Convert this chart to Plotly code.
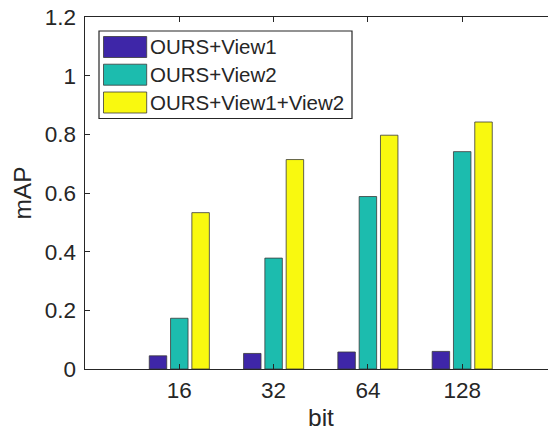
import plotly.graph_objects as go

categories = ["16", "32", "64", "128"]
series_names = ["OURS+View1", "OURS+View2", "OURS+View1+View2"]
view1 = [0.045, 0.053, 0.058, 0.060]
view2 = [0.173, 0.378, 0.588, 0.741]
view12 = [0.533, 0.714, 0.797, 0.842]
colors = ["#3e26a8", "#1cbcae", "#f9f90f"]
yticks = [0, 0.2, 0.4, 0.6, 0.8, 1.0, 1.2]
ytick_labels = ["0", "0.2", "0.4", "0.6", "0.8", "1", "1.2"]

xpos = list(range(1, len(categories) + 1))
FONT = "Liberation Sans, Arial, sans-serif"
TXT = "#262626"

fig = go.Figure()
for name, vals, col in zip(series_names, [view1, view2, view12], colors):
    fig.add_trace(go.Bar(x=xpos, y=vals, name=name, hoverinfo="skip",
                         marker=dict(color=col, line=dict(color="#3a3a3a", width=0.8))))

# The MATLAB axes run past the right edge of the 548px window; the figure is a
# little wider and the page clips it, as in the reference.
W, H = 557, 439
ml, mt, mb, mr = 85, 17, 70, 0
pw, ph = W - ml - mr, H - mt - mb
def px(x): return (x - ml) / pw
def py(y): return 1 - (y - mt) / ph

# manual legend (MATLAB style)
shapes = [dict(type="rect", xref="paper", yref="paper", x0=px(99), x1=px(352), y0=py(31), y1=py(118.5),
               line=dict(color=TXT, width=1.2), fillcolor="white", layer="above")]
annotations = []
row_y = [47, 74.7, 102.5]
for name, col, yc in zip(series_names, colors, row_y):
    shapes.append(dict(type="rect", xref="paper", yref="paper", x0=px(103.5), x1=px(146.7), y0=py(yc - 10.5), y1=py(yc + 10.5),
                       line=dict(color="#3a3a3a", width=0.8), fillcolor=col, layer="above"))
    annotations.append(dict(xref="paper", yref="paper", x=px(148), y=py(yc), text=name, showarrow=False,
                            xanchor="left", yanchor="middle", font=dict(family=FONT, size=20.5, color=TXT)))

fig.update_layout(
    width=W, height=H,
    margin=dict(l=ml, r=mr, t=mt, b=mb, pad=0),
    paper_bgcolor="white", plot_bgcolor="white",
    barmode="group", bargap=0.322, bargroupgap=0.18,
    showlegend=False, hovermode=False,
    font=dict(family=FONT, size=22.5, color=TXT),
    shapes=shapes, annotations=annotations,
)
fig.update_xaxes(range=[0, pw / 94.3], tickvals=xpos, ticktext=categories, ticks="inside", ticklen=5,
                 tickcolor=TXT, showline=True, linecolor=TXT, linewidth=1.4, mirror="ticks",
                 ticklabelstandoff=1, showgrid=False, zeroline=False,
                 title=dict(text="bit", font=dict(size=24.5), standoff=6))
fig.update_yaxes(range=[0, 1.2], tickvals=yticks, ticktext=ytick_labels, ticks="inside", ticklen=5,
                 tickcolor=TXT, showline=True, linecolor=TXT, linewidth=1.4,
                 ticklabelstandoff=3, showgrid=False, zeroline=False,
                 title=dict(text="mAP", font=dict(size=24.5), standoff=6))
fig.write_html("out.html", config={"displayModeBar": False, "staticPlot": True},
               post_script="document.body.style.margin='0';document.body.style.overflow='hidden';")
